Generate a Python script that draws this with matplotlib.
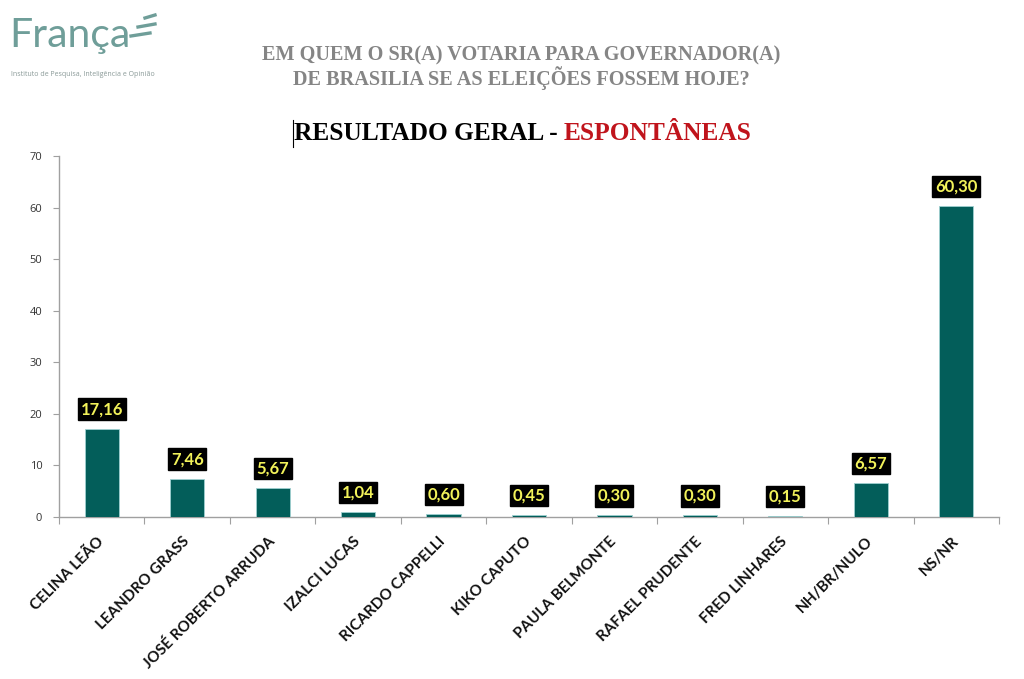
import matplotlib
matplotlib.use("Agg")
import matplotlib.pyplot as plt
from matplotlib.lines import Line2D
import numpy as np

categories = ["CELINA LEÃO", "LEANDRO GRASS", "JOSÉ ROBERTO ARRUDA", "IZALCI LUCAS",
              "RICARDO CAPPELLI", "KIKO CAPUTO", "PAULA BELMONTE", "RAFAEL PRUDENTE",
              "FRED LINHARES", "NH/BR/NULO", "NS/NR"]
values = [17.16, 7.46, 5.67, 1.04, 0.60, 0.45, 0.30, 0.30, 0.15, 6.57, 60.30]
value_labels = ["17,16", "7,46", "5,67", "1,04", "0,60", "0,45", "0,30", "0,30", "0,15", "6,57", "60,30"]
yticks = [0, 10, 20, 30, 40, 50, 60, 70]

fig = plt.figure(figsize=(10.24, 6.79), dpi=100)
fig.patch.set_facecolor("white")
ax = fig.add_axes([59/1024, 1-517/679, (999-59)/1024, (517-156)/679])

x = np.arange(len(categories))
ax.bar(x, values, width=0.4, color="#035e5a", edgecolor="#9fd0d0", linewidth=0.6, zorder=3)
ax.set_xlim(-0.5, len(categories)-0.5)
ax.set_ylim(0, 70)
ax.set_yticks(yticks)
ax.set_yticklabels([str(t) for t in yticks], fontsize=8, color="#333333", family="Open Sans")
ax.tick_params(axis="y", length=4, color="#a0a0a0", pad=8)
ax.set_xticks(np.arange(len(categories)+1)-0.5)
ax.set_xticklabels([])
ax.tick_params(axis="x", length=5, color="#a0a0a0", direction="out")
for s in ["top", "right"]:
    ax.spines[s].set_visible(False)
for s in ["left", "bottom"]:
    ax.spines[s].set_color("#a0a0a0")
    ax.spines[s].set_linewidth(1.0)

for xi, cat in zip(x, categories):
    ax.annotate(cat, xy=(xi, 0), xycoords="data", xytext=(0, -16), textcoords="offset points",
                rotation=45, rotation_mode="anchor", ha="right", va="center",
                fontsize=11, fontweight="bold", family="Lato", color="#111111")

for xi, v, lab in zip(x, values, value_labels):
    ax.annotate(lab, xy=(xi, v), xytext=(0, 14), textcoords="offset points",
                ha="center", va="center", fontsize=12, fontweight="bold", family="Lato",
                color="#f2f25a",
                bbox=dict(boxstyle="square,pad=0.16", facecolor="black", edgecolor="black"))

# Header text
fig.text(521/1024, 1-55/679, "EM QUEM O SR(A) VOTARIA PARA GOVERNADOR(A)", ha="center", va="center",
         fontsize=14.6, fontweight="bold", family="Liberation Serif", color="#858585")
fig.text(521/1024, 1-78/679, "DE BRASILIA SE AS ELEIÇÕES FOSSEM HOJE?", ha="center", va="center",
         fontsize=14.6, fontweight="bold", family="Liberation Serif", color="#858585")

t1 = fig.text(294/1024, 1-133/679, "RESULTADO GERAL - ", ha="left", va="center",
              fontsize=18.3, fontweight="bold", family="Liberation Serif", color="black")
fig.canvas.draw()
bb = t1.get_window_extent()
fig.text(bb.x1/1024, 1-133/679, "ESPONTÂNEAS", ha="left", va="center",
         fontsize=18.3, fontweight="bold", family="Liberation Serif", color="#c0141c")
fig.add_artist(Line2D([293/1024, 293/1024], [1-147/679, 1-120/679], color="black", linewidth=0.8))

# Logo
fig.text(9/1024, 1-36/679, "França", ha="left", va="center", fontsize=29.5,
         family="Lato", fontweight="normal", color="#6f9e99")
for (x0, x1, yy) in [(145, 155, 18), (138, 155, 27), (131, 150, 36)]:
    fig.add_artist(Line2D([x0/1024, x1/1024], [1-yy/679, 1-(yy-3)/679], color="#6f9e99", linewidth=2.4))
fig.text(11/1024, 1-75/679, "Instituto de Pesquisa, Inteligência e Opinião", ha="left", va="center",
         fontsize=5.0, family="Open Sans", color="#8a9a98")

fig.savefig("out.png", dpi=100, facecolor="white")
